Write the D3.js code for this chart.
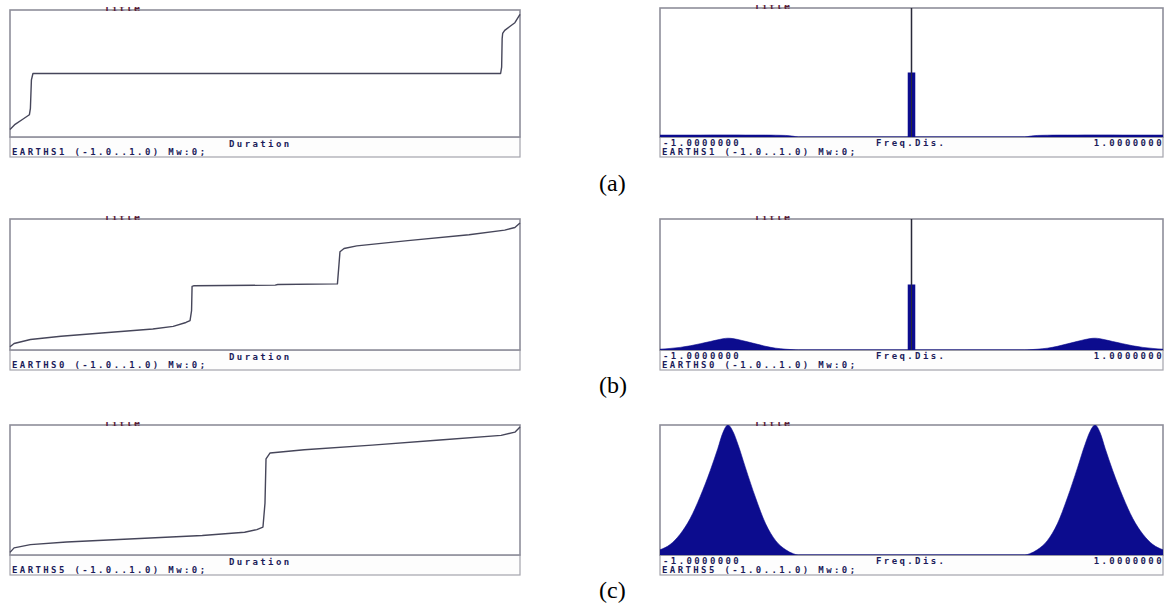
<!DOCTYPE html>
<html>
<head>
<meta charset="utf-8">
<script src="https://cdn.jsdelivr.net/npm/d3@7"></script>
<style>
  body { margin: 0; background: #fff; }
  svg { display: block; }
  .foot { font-family: "DejaVu Sans Mono", monospace; font-weight: bold; font-size: 9px; fill: #1c1c5a; letter-spacing: 2.4px; }
  .title { font-family: "DejaVu Sans Mono", monospace; font-weight: bold; font-size: 10px; fill: #5a2036; letter-spacing: 1.5px; }
  .rowlabel { font-family: "Liberation Serif", "Times New Roman", serif; font-size: 24px; fill: #000; }
</style>
</head>
<body>
<svg id="chart" width="1169" height="609"></svg>
<script>
// ---- data ----
const rowLabels = ["(a)", "(b)", "(c)"];
const seriesNames = ["EARTHS1", "EARTHS0", "EARTHS5"];
const rangeText = " (-1.0..1.0) Mw:0;";
const durationTitle = "Duration";
const freqTitle = "Freq.Dis.";
const freqTicks = ["-1.0000000", "1.0000000"];

// duration curves: share of time (0..1) vs sorted value (-1..1)
const durationTimeA = [0, 0.01, 0.025, 0.038, 0.04, 0.042, 0.045, 0.962, 0.964, 0.965, 0.966, 0.97, 0.98, 0.99, 1.0];
const durationValueA = [-0.88, -0.8, -0.72, -0.65, -0.55, -0.1, 0, 0, 0.1, 0.55, 0.63, 0.68, 0.74, 0.8, 0.93];

const durationTimeB = [0, 0.008, 0.04, 0.1, 0.18, 0.28, 0.32, 0.345, 0.353, 0.356, 0.357, 0.36, 0.52, 0.525, 0.642, 0.645, 0.647, 0.655, 0.68, 0.78, 0.9, 0.97, 0.99, 1.0];
const durationValueB = [-0.95, -0.9, -0.84, -0.79, -0.74, -0.68, -0.64, -0.58, -0.55, -0.4, -0.03, -0.02, -0.01, 0.0, 0.01, 0.3, 0.5, 0.55, 0.59, 0.67, 0.76, 0.83, 0.87, 0.94];

const durationTimeC = [0, 0.008, 0.04, 0.111, 0.244, 0.377, 0.46, 0.484, 0.496, 0.5, 0.502, 0.51, 0.577, 0.71, 0.843, 0.963, 0.99, 1.0];
const durationValueC = [-0.96, -0.89, -0.84, -0.8, -0.75, -0.7, -0.65, -0.61, -0.57, -0.2, 0.48, 0.57, 0.62, 0.69, 0.77, 0.84, 0.89, 0.97];

// frequency distributions over value -1..1 (relative height)
const freqX = [-1, -0.96, -0.92, -0.88, -0.84, -0.8, -0.77, -0.75, -0.73, -0.71, -0.69, -0.66, -0.62, -0.58, -0.54, -0.5, -0.47, -0.45,
               0.45, 0.47, 0.5, 0.54, 0.58, 0.62, 0.66, 0.69, 0.71, 0.73, 0.75, 0.77, 0.8, 0.84, 0.88, 0.92, 0.96, 1];
const freqA = [0.015, 0.015, 0.015, 0.015, 0.015, 0.016, 0.016, 0.016, 0.016, 0.016, 0.016, 0.015, 0.015, 0.015, 0.014, 0.012, 0.006, 0,
               0, 0.006, 0.012, 0.014, 0.015, 0.015, 0.015, 0.016, 0.016, 0.016, 0.016, 0.016, 0.016, 0.015, 0.015, 0.015, 0.015, 0.015];
const freqB = [0.006, 0.012, 0.02, 0.032, 0.048, 0.065, 0.078, 0.086, 0.09, 0.087, 0.08, 0.066, 0.047, 0.028, 0.014, 0.006, 0.002, 0,
               0, 0.002, 0.006, 0.014, 0.028, 0.047, 0.066, 0.08, 0.087, 0.09, 0.086, 0.078, 0.065, 0.048, 0.032, 0.02, 0.012, 0.006];
const freqC = [0.04, 0.08, 0.16, 0.28, 0.45, 0.65, 0.82, 0.94, 1.0, 0.95, 0.85, 0.67, 0.44, 0.24, 0.11, 0.04, 0.01, 0,
               0, 0.01, 0.04, 0.11, 0.24, 0.44, 0.67, 0.85, 0.95, 1.0, 0.94, 0.82, 0.65, 0.45, 0.28, 0.16, 0.08, 0.04];

// spike at zero: wide bin and the thin full-height line
const spikeBar = [0.5, 0.5, 0];
const spikeLine = [1.2, 1.2, 0];

const durations = [
  { t: durationTimeA, v: durationValueA },
  { t: durationTimeB, v: durationValueB },
  { t: durationTimeC, v: durationValueC }
];
const freqs = [freqA, freqB, freqC];

// ---- layout ----
const leftX = [10, 520];
const rightX = [660, 1163];
const rowTop = [10, 219, 425];
const rowTopRight = [8, 219, 425];
const plotBottom = [137, 350, 555];
const footH = 20;
const labelY = [191, 393, 598];

const svg = d3.select('#chart');
svg.append('rect').attr('width', 1169).attr('height', 609).attr('fill', '#fff');

const defs = svg.append('defs');

function frame(g, x0, x1, top, bottom) {
  // footer box
  g.append('rect')
    .attr('x', x0).attr('y', bottom)
    .attr('width', x1 - x0).attr('height', footH)
    .attr('fill', '#fdfdfd')
    .attr('stroke', '#a4a4ac').attr('stroke-width', 1.2);
  // plot box
  g.append('rect')
    .attr('x', x0).attr('y', top)
    .attr('width', x1 - x0).attr('height', bottom - top)
    .attr('fill', '#fff')
    .attr('stroke', '#8e8e9a').attr('stroke-width', 1.6);
}

function title(g, x, top, id) {
  defs.append('clipPath').attr('id', id)
    .append('rect').attr('x', x - 2).attr('y', top - 3).attr('width', 50).attr('height', 4);
  g.append('text')
    .attr('class', 'title')
    .attr('clip-path', `url(#${id})`)
    .attr('x', x).attr('y', top + 2)
    .text('Title');
}

rowLabels.forEach((lab, i) => {
  // ---------- duration curve (left) ----------
  const gl = svg.append('g');
  frame(gl, leftX[0], leftX[1], rowTop[i], plotBottom[i]);
  title(gl, 104, rowTop[i], 'tl' + i);

  const x = d3.scaleLinear().domain([0, 1]).range([leftX[0], leftX[1]]);
  const y = d3.scaleLinear().domain([-1, 1]).range([plotBottom[i], rowTop[i]]);
  const pts = durations[i].t.map((t, k) => [t, durations[i].v[k]]);

  gl.append('path')
    .datum(pts)
    .attr('fill', 'none')
    .attr('stroke', '#46465a')
    .attr('stroke-width', 1.4)
    .attr('stroke-linejoin', 'round')
    .attr('d', d3.line().x(d => x(d[0])).y(d => y(d[1])));

  gl.append('text').attr('class', 'foot')
    .attr('x', 229).attr('y', plotBottom[i] + 10)
    .text(durationTitle);
  gl.append('text').attr('class', 'foot')
    .attr('x', leftX[0] + 2).attr('y', plotBottom[i] + 18)
    .text(seriesNames[i] + rangeText);

  // ---------- frequency distribution (right) ----------
  const gr = svg.append('g');
  const topR = rowTopRight[i];
  frame(gr, rightX[0], rightX[1], topR, plotBottom[i]);
  title(gr, 754, topR, 'tr' + i);

  const fx = d3.scaleLinear().domain([-1, 1]).range([rightX[0], rightX[1]]);
  const fy = d3.scaleLinear().domain([0, 1]).range([plotBottom[i], topR]);

  defs.append('clipPath').attr('id', 'fc' + i)
    .append('rect')
    .attr('x', rightX[0]).attr('y', topR)
    .attr('width', rightX[1] - rightX[0]).attr('height', plotBottom[i] - topR);

  const plot = gr.append('g').attr('clip-path', `url(#fc${i})`);

  const fpts = freqX.map((v, k) => [v, freqs[i][k]]);
  plot.append('path')
    .datum(fpts)
    .attr('fill', '#0c0c8e')
    .attr('stroke', '#0c0c8e')
    .attr('stroke-width', 0.6)
    .attr('d', d3.area()
      .curve(d3.curveMonotoneX)
      .x(d => fx(d[0]))
      .y0(fy(0))
      .y1(d => fy(d[1])));

  if (spikeLine[i] > 0) {
    plot.append('rect')
      .attr('x', fx(-0.003)).attr('width', fx(0.003) - fx(-0.003))
      .attr('y', fy(spikeLine[i])).attr('height', fy(0) - fy(spikeLine[i]))
      .attr('fill', '#2a2a3a');
  }
  if (spikeBar[i] > 0) {
    plot.append('rect')
      .attr('x', fx(-0.015)).attr('width', fx(0.015) - fx(-0.015))
      .attr('y', fy(spikeBar[i])).attr('height', fy(0) - fy(spikeBar[i]))
      .attr('fill', '#0c0c8e');
    plot.append('rect')
      .attr('x', fx(-0.002)).attr('width', fx(0.002) - fx(-0.002))
      .attr('y', fy(spikeBar[i])).attr('height', fy(0) - fy(spikeBar[i]))
      .attr('fill', '#2a2a3a');
  }

  gr.append('text').attr('class', 'foot')
    .attr('x', rightX[0] + 3).attr('y', plotBottom[i] + 9)
    .text(freqTicks[0]);
  gr.append('text').attr('class', 'foot')
    .attr('x', 876).attr('y', plotBottom[i] + 9)
    .text(freqTitle);
  gr.append('text').attr('class', 'foot')
    .attr('x', rightX[1] + 1).attr('y', plotBottom[i] + 9)
    .attr('text-anchor', 'end')
    .text(freqTicks[1]);
  gr.append('text').attr('class', 'foot')
    .attr('x', rightX[0] + 2).attr('y', plotBottom[i] + 18)
    .text(seriesNames[i] + rangeText);

  // row label
  svg.append('text').attr('class', 'rowlabel')
    .attr('x', 599).attr('y', labelY[i])
    .text(lab);
});
</script>
</body>
</html>
